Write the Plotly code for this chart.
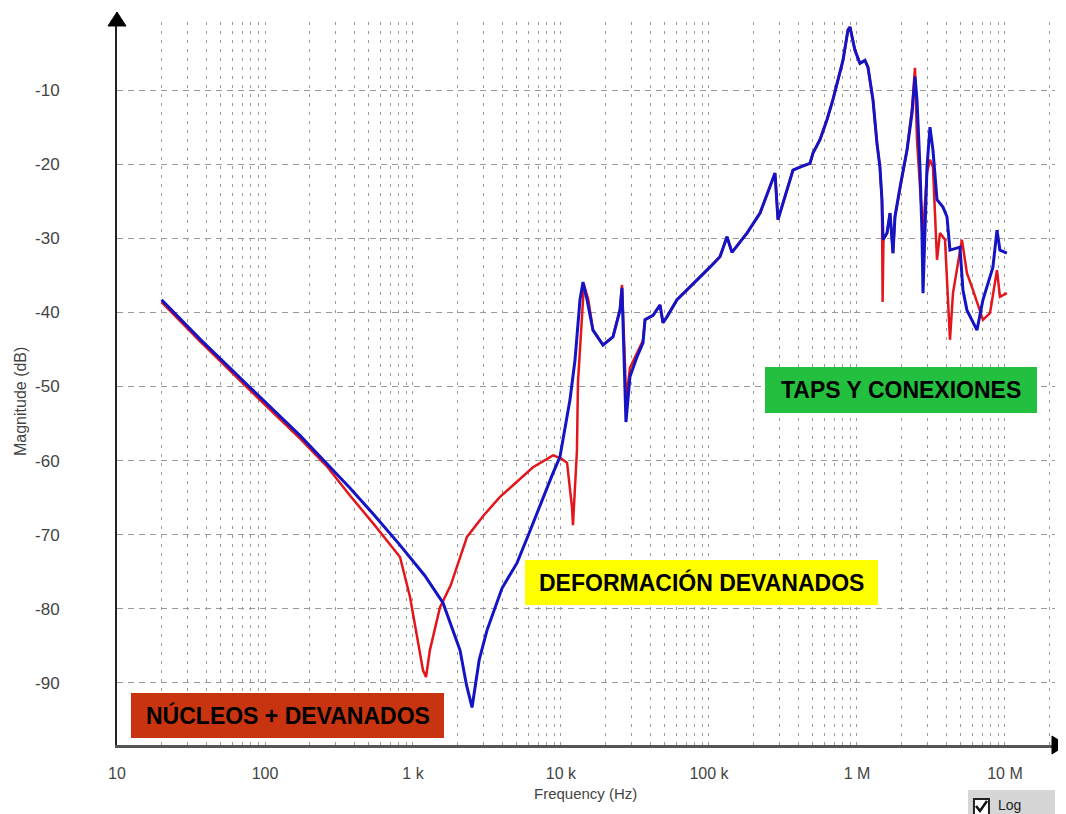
import plotly.graph_objects as go

# ---- data (Hz, dB) ----
blue_freq = [20, 36.4, 79, 172, 375, 550, 817, 1200, 1596, 1800, 2080, 2300, 2506, 2800,
             3162, 4000, 5047, 6000, 7560, 8700, 9840,
             11500, 12440, 13440, 14090, 15000, 16450, 19230, 22450, 25050, 25830,
             27060, 27480, 29240, 32630, 35810, 36960, 41880, 46680, 48880, 52000,
             60790, 71000, 86900, 101600, 118600, 132300, 143000, 180600, 221300,
             258400, 279300, 292500, 336500, 369500, 412200, 481000, 504500, 562300,
             627000, 688000, 804000, 869000, 897000, 968000, 1047000, 1132000, 1186000,
             1282000, 1365000, 1429000, 1475000, 1500000, 1596000, 1672000, 1751000,
             1806000, 1953000, 2178000, 2355000, 2466000, 2543000, 2665000, 2749000,
             2793000, 2972000, 3113000, 3262000, 3473000, 3811000, 4056000, 4249000,
             4963000, 5200000, 5534000, 6466000, 7100000, 8290000, 8830000, 9250000,
             10300000]
blue_db = [-38.3, -43.6, -50.1, -56.6, -63.7, -67.4, -71.4, -75.5, -79.2, -82.2, -85.6,
           -90.3, -93.3, -86.9, -82.9, -77.2, -73.8, -70.1, -64.9, -62.0, -59.5,
           -51.8, -46.4, -38.3, -35.9, -38.3, -42.4, -44.4, -43.3, -39.7,
           -36.7, -49.5, -54.8, -48.7, -46.0, -44.1, -41.0, -40.4, -39.0, -41.4, -40.6,
           -38.3, -37.0, -35.2, -33.9, -32.5, -29.8, -31.9, -29.3, -26.6, -23.1, -21.2,
           -27.5, -23.5, -20.8, -20.4, -19.9, -18.5, -16.7, -14.0, -11.3, -6.0, -1.9,
           -1.5, -4.6, -6.4, -6.0, -6.9, -11.3, -17.2, -20.4, -24.8, -30.2, -29.3,
           -26.6, -32.0, -27.1, -23.1, -18.1, -13.1, -8.2, -11.3, -20.4, -29.3, -37.4,
           -20.4, -15.0, -18.1, -24.8, -25.8, -27.1, -31.6, -31.2, -37.0, -39.7, -42.4,
           -38.3, -33.9, -28.9, -31.6, -32.0]

red_freq = [20, 36.4, 79, 172, 260, 375, 550, 817, 955, 1080, 1169, 1225, 1300, 1521,
            1800, 2317, 3000, 3873, 5000, 6471, 8830, 10000,
            10990, 11870, 12050, 12620, 12820, 13020, 13860, 14290, 15300, 16450, 19230,
            22450, 25050, 25830, 27060, 27480, 29240, 32630, 35810, 36960, 41880, 46680,
            48880, 52000, 60790, 71000, 86900, 101600, 118600, 132300, 143000, 180600,
            221300, 258400, 279300, 292500, 336500, 369500, 412200, 481000, 504500,
            562300, 627000, 688000, 804000, 869000, 897000, 968000, 1047000, 1132000,
            1186000, 1282000, 1365000, 1429000, 1475000, 1490000, 1510000, 1596000,
            1672000, 1751000, 1806000, 1953000, 2178000, 2355000, 2466000, 2543000,
            2793000, 2972000, 3113000, 3262000, 3473000, 3639000, 3934000, 4249000,
            4453000, 5117000, 5534000, 6082000, 7100000, 7920000, 8830000, 9250000,
            10300000]
red_db = [-38.6, -43.9, -50.5, -57.0, -60.7, -64.7, -68.7, -73.0, -78.4, -84.2, -88.3,
          -89.2, -85.6, -79.8, -76.8, -70.3, -67.4, -64.9, -62.9, -60.9, -59.3, -59.7,
          -60.3, -66.3, -68.7, -60.3, -58.6, -49.5, -41.4, -36.3,
          -38.3, -42.4, -44.4, -43.3, -39.5, -36.3, -47.0, -52.0, -47.5, -45.5, -43.8,
          -41.0, -40.4, -39.0, -41.4, -40.6, -38.3, -37.0, -35.2, -33.9, -32.5, -29.8,
          -31.9, -29.3, -26.6, -23.1, -21.2, -27.5, -23.5, -20.8, -20.4, -19.9, -18.5,
          -16.7, -14.0, -11.3, -6.0, -1.9, -1.5, -4.6, -6.4, -6.0, -6.9, -11.3, -17.2,
          -20.4, -25.0, -38.6, -30.2, -29.3, -26.6, -32.0, -27.1, -23.1, -18.1, -12.5,
          -7.0, -16.7, -29.3, -21.2, -19.4, -20.4, -32.9, -29.3, -30.2, -43.7, -37.4,
          -30.2, -34.7, -37.0, -41.0, -40.1, -34.3, -37.9, -37.4]

decade_vals = [10, 100, 1000, 10000, 100000, 1000000, 10000000]
decade_text = ["10", "100", "1 k", "10 k", "100 k", "1 M", "10 M"]
y_ticks = [-90, -80, -70, -60, -50, -40, -30, -20, -10]
y_text = ["-90", "-80", "-70", "-60", "-50", "-40", "-30", "-20", "-10"]

label_nucleos = "NÚCLEOS + DEVANADOS"
label_deform = "DEFORMACIÓN DEVANADOS"
label_taps = "TAPS Y CONEXIONES"

# tick positions (decades labelled, 2..9 unlabelled for grid)
tickvals, ticktext = [], []
for d, t in zip(decade_vals, decade_text):
    for m in range(1, 10):
        tickvals.append(d * m)
        ticktext.append(t if m == 1 else "")
tickvals.append(20000000)
ticktext.append("")

FONT = "Liberation Sans, Arial, sans-serif"

fig = go.Figure()
fig.add_trace(go.Scatter(x=red_freq, y=red_db, mode="lines",
                         line=dict(color="#e3161b", width=2.5), showlegend=False))
fig.add_trace(go.Scatter(x=blue_freq, y=blue_db, mode="lines",
                         line=dict(color="#1414c4", width=3), showlegend=False))

# page body has an 8px margin, so the figure is 8px smaller and shifted
fig.update_layout(
    width=1058, height=806,
    margin=dict(l=109, r=11, t=14, b=69, autoexpand=False),
    paper_bgcolor="white", plot_bgcolor="white",
    font=dict(family=FONT, size=16, color="#444"),
    showlegend=False,
)
fig.update_xaxes(type="log", range=[1, 7.338], tickvals=tickvals, ticktext=ticktext,
                 showgrid=True, gridcolor="#9a9a9a", gridwidth=1, griddash="3px,6px",
                 showline=True, linecolor="#555", linewidth=3, ticks="",
                 ticklabelstandoff=12, tickfont=dict(size=16, color="#444"),
                 zeroline=False, automargin=False)
fig.update_yaxes(range=[-98.37, -0.82], tickvals=y_ticks, ticktext=y_text,
                 showgrid=True, gridcolor="#9a9a9a", gridwidth=1, griddash="6px,5px",
                 showline=True, linecolor="#222", linewidth=2, ticks="",
                 ticklabelstandoff=52, tickfont=dict(size=17, color="#444"),
                 zeroline=False, automargin=False)

shapes = []
# axis arrow heads
shapes.append(dict(type="path", xref="paper", yref="paper",
                   path="M 0.9968 0.01245 L 1.0117 0 L 0.9968 -0.01245 Z",
                   fillcolor="black", line=dict(color="black", width=1)))
shapes.append(dict(type="path", xref="paper", yref="paper",
                   path="M -0.0096 0.9945 L 0 1.0138 L 0.0096 0.9945 Z",
                   fillcolor="black", line=dict(color="black", width=1)))
# coloured label boxes
shapes.append(dict(type="rect", xref="paper", yref="paper", x0=0.6908, x1=0.9808,
                   y0=0.4592, y1=0.5228, fillcolor="#22c03e", line=dict(width=0)))
shapes.append(dict(type="rect", xref="paper", yref="paper", x0=0.435, x1=0.8113,
                   y0=0.1936, y1=0.2559, fillcolor="#ffff00", line=dict(width=0)))
shapes.append(dict(type="rect", xref="paper", yref="paper", x0=0.0149, x1=0.3486,
                   y0=0.0097, y1=0.0719, fillcolor="#c8340f", line=dict(width=0)))
# "Log" checkbox widget
shapes.append(dict(type="rect", xref="paper", yref="paper", x0=0.9072, x1=1.0,
                   y0=-0.12, y1=-0.0622, fillcolor="#d6d6d6", line=dict(width=0)))
shapes.append(dict(type="rect", xref="paper", yref="paper", x0=0.9136, x1=0.9296,
                   y0=-0.12, y1=-0.0747, fillcolor="white",
                   line=dict(color="#222", width=2)))
shapes.append(dict(type="path", xref="paper", yref="paper",
                   path="M 0.9158 -0.0844 L 0.9200 -0.0913 L 0.9275 -0.0775",
                   line=dict(color="#111", width=2.5)))
fig.update_layout(shapes=shapes)

ann = []
ann.append(dict(text="<b>" + label_taps + "</b>", xref="paper", yref="paper",
                x=0.8358, y=0.491, xanchor="center", yanchor="middle", showarrow=False,
                font=dict(family=FONT, size=23, color="black")))
ann.append(dict(text="<b>" + label_deform + "</b>", xref="paper", yref="paper",
                x=0.6232, y=0.2247, xanchor="center", yanchor="middle", showarrow=False,
                font=dict(family=FONT, size=23, color="black")))
ann.append(dict(text="<b>" + label_nucleos + "</b>", xref="paper", yref="paper",
                x=0.1818, y=0.0408, xanchor="center", yanchor="middle", showarrow=False,
                font=dict(family=FONT, size=23, color="black")))
ann.append(dict(text="Magnitude (dB)", xref="paper", yref="paper",
                x=-0.1034, y=0.4744, xanchor="center", yanchor="middle",
                showarrow=False, textangle=-90,
                font=dict(family=FONT, size=16, color="#444")))
ann.append(dict(text="Frequency (Hz)", xref="paper", yref="paper",
                x=0.499, y=-0.0664, xanchor="center", yanchor="middle", showarrow=False,
                font=dict(family=FONT, size=15, color="#444")))
ann.append(dict(text="Log", xref="paper", yref="paper",
                x=0.937, y=-0.0835, xanchor="left", yanchor="middle", showarrow=False,
                font=dict(family=FONT, size=14, color="#222")))
fig.update_layout(annotations=ann)

fig.write_html("out.html")
